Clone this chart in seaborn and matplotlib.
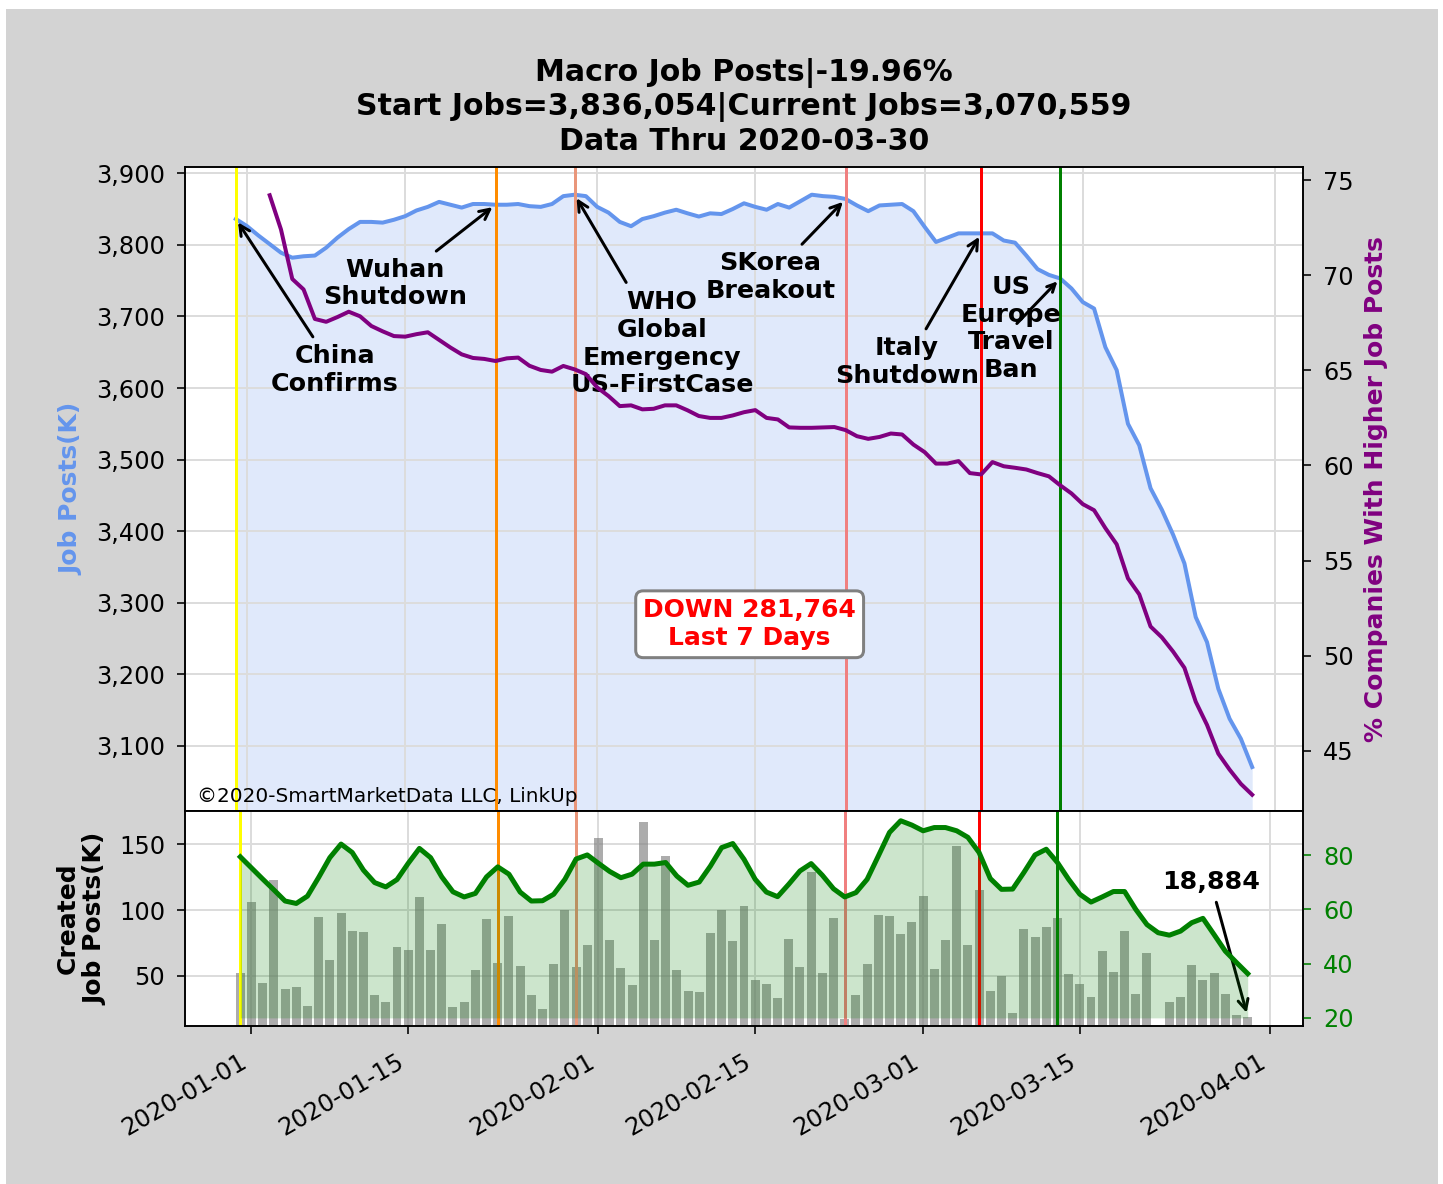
import numpy as np
import pandas as pd
import seaborn as sns
import matplotlib.pyplot as plt
import matplotlib.dates as mdates
from matplotlib.patches import Rectangle
from matplotlib.ticker import FuncFormatter, MultipleLocator

nan = np.nan

# daily dates 2019-12-31 .. 2020-03-30
dates = pd.date_range('2019-12-31', '2020-03-30', freq='D')

# total job posts (thousands)
job_posts_k = [
    3836.054, 3826, 3813, 3801, 3789, 3782, 3784, 3785, 3796, 3810,
    3822, 3832, 3832, 3831, 3835, 3840, 3848, 3853, 3860, 3856,
    3852, 3857, 3857, 3856, 3856, 3857, 3854, 3853, 3857, 3868,
    3870, 3868, 3853, 3845, 3832, 3826, 3836, 3840, 3845, 3849,
    3844, 3839.5, 3844, 3843, 3850, 3858, 3853, 3849, 3857, 3852,
    3861, 3870, 3868, 3867, 3864, 3855, 3847, 3855, 3856, 3857,
    3847, 3825, 3804, 3810, 3816, 3816, 3816, 3816, 3806, 3803,
    3785, 3766, 3758, 3753, 3739, 3720, 3711, 3657, 3625, 3550,
    3520, 3460, 3430, 3395, 3355, 3280, 3245, 3180, 3138, 3110,
    3070.559,
]

# % companies with higher job posts
pct_higher = [
    nan, nan, nan, 74.2, 72.4, 69.8, 69.25, 67.7, 67.55, 67.8,
    68.08, 67.84, 67.33, 67.05, 66.8, 66.77, 66.9, 67.0, 66.6, 66.2,
    65.84, 65.65, 65.6, 65.49, 65.63, 65.67, 65.24, 65.02, 64.93, 65.23,
    65.05, 64.8, 64.1, 63.65, 63.12, 63.16, 62.95, 62.98, 63.16, 63.16,
    62.9, 62.6, 62.5, 62.5, 62.63, 62.8, 62.91, 62.5, 62.42, 62.0,
    61.98, 61.98, 62.0, 62.02, 61.86, 61.54, 61.4, 61.5, 61.68, 61.63,
    61.1, 60.7, 60.1, 60.1, 60.23, 59.6, 59.53, 60.18, 59.96, 59.88,
    59.79, 59.6, 59.43, 58.96, 58.53, 57.97, 57.65, 56.71, 55.86, 54.07,
    53.23, 51.54, 50.97, 50.22, 49.37, 47.59, 46.37, 44.86, 44.02, 43.27,
    42.7,
]

# newly created job posts per day (thousands)
created_k = [
    52.0, 106.3, 44.4, 122.5, 40.3, 41.6, 27.1, 95.0, 62.2, 97.9,
    83.8, 83.1, 35.0, 30.4, 71.9, 69.8, 109.8, 69.8, 89.7, 26.1,
    30.4, 54.3, 93.5, 59.4, 95.6, 57.6, 35.7, 25.0, 59.2, 99.9,
    56.6, 73.2, 154.4, 77.0, 55.6, 43.1, 167.0, 77.0, 140.8, 54.3,
    38.5, 37.5, 82.3, 99.9, 76.2, 103.4, 46.9, 43.9, 33.4, 78.2,
    56.3, 129.2, 51.8, 93.8, 17.5, 35.7, 58.6, 96.3, 95.6, 81.8,
    91.0, 110.3, 55.3, 77.0, 148.5, 73.7, 115.1, 38.5, 50.0, 22.0,
    85.9, 79.5, 87.2, 93.8, 51.5, 43.9, 33.7, 69.1, 52.8, 84.4,
    36.5, 67.0, nan, 30.4, 34.0, 58.3, 46.7, 52.3, 36.5, 20.2,
    18.884,
]

# smoothed created posts (right axis)
created_avg = [
    79.4, 75.3, 71.2, 67.2, 63.1, 62.2, 64.9, 71.8, 79.1, 84.1,
    81.0, 74.5, 69.9, 68.3, 71.0, 77.0, 82.5, 79.1, 72.0, 66.5,
    64.6, 65.9, 72.0, 75.7, 73.0, 66.4, 63.1, 63.2, 65.6, 71.1,
    78.6, 80.1, 77.0, 74.0, 71.7, 73.0, 76.7, 76.7, 77.3, 72.3,
    68.9, 70.1, 76.0, 82.8, 84.3, 78.5, 71.1, 66.4, 64.7, 69.3,
    74.2, 76.9, 72.6, 67.6, 64.6, 66.2, 71.1, 79.7, 88.4, 92.7,
    91.1, 89.0, 90.2, 90.2, 89.0, 86.6, 81.0, 71.4, 67.4, 67.5,
    73.6, 80.1, 82.2, 77.3, 71.1, 65.6, 62.7, 64.6, 66.6, 66.6,
    60.0, 54.4, 51.4, 50.5, 52.0, 55.1, 56.7, 50.7, 44.6, 40.4,
    36.3,
]

event_dates = ['2019-12-31', '2020-01-23', '2020-01-30', '2020-02-23', '2020-03-06', '2020-03-13']
event_colors = ['yellow', 'darkorange', 'darksalmon', 'lightcoral', 'red', 'green']
event_labels = ['China\nConfirms', 'Wuhan\nShutdown', 'WHO\nGlobal\nEmergency\nUS-FirstCase',
                'SKorea\nBreakout', 'Italy\nShutdown', 'US\nEurope\nTravel\nBan']
label_pos = [('2020-01-08 18:00', 3625), ('2020-01-14 02:00', 3746), ('2020-02-06 18:00', 3662),
             ('2020-02-16 08:00', 3755), ('2020-02-28 10:00', 3636), ('2020-03-08 15:00', 3683)]

W, H, DPI = 1443, 1184, 144
fig = plt.figure(figsize=(W / DPI, H / DPI), dpi=DPI)
fig.patch.set_facecolor('white')
fig.patches.append(Rectangle((6 / W, 0), 1432 / W, 1175 / H, transform=fig.transFigure,
                             facecolor='lightgray', edgecolor='none', zorder=-10))

ax = fig.add_axes([185 / W, 1 - 811 / H, 1118 / W, 644 / H])
ax2 = ax.twinx()
axb = fig.add_axes([185 / W, 1 - 1026 / H, 1118 / W, 215 / H])
axb2 = axb.twinx()

df = pd.DataFrame({'date': dates, 'jobs': job_posts_k, 'pct': pct_higher,
                   'created': created_k, 'avg': created_avg})

# ---- top panel
lo, hi = min(job_posts_k) * 0.98, max(job_posts_k) * 1.01
ax.fill_between(df['date'], df['jobs'], lo, color='cornflowerblue', alpha=0.2, lw=0)
sns.lineplot(data=df, x='date', y='jobs', ax=ax, color='cornflowerblue', lw=2)
ax.set_ylim(lo, hi)
sns.lineplot(data=df, x='date', y='pct', ax=ax2, color='purple', lw=2)
ax2.set_ylim(np.nanmin(pct_higher) * 0.98, np.nanmax(pct_higher) * 1.02)

for d, c in zip(event_dates, event_colors):
    ax.axvline(pd.Timestamp(d), color=c, lw=1.5)
    axb.axvline(pd.Timestamp(d), color=c, lw=1.5)

jobs_at = dict(zip(dates, job_posts_k))
for d, lab, (tx, ty) in zip(event_dates, event_labels, label_pos):
    xy = (mdates.date2num(pd.Timestamp(d)), jobs_at[pd.Timestamp(d)])
    txy = (mdates.date2num(pd.Timestamp(tx)), ty)
    if lab.startswith('US'):
        # arrow runs straight through this label in the original
        ax.text(*txy, lab, ha='center', va='center', fontsize=12.7, fontweight='bold')
        ax.annotate('', xy=xy, xytext=(mdates.date2num(pd.Timestamp('2020-03-08 22:00')), 3686),
                    arrowprops=dict(arrowstyle='->', color='black', lw=1.5))
    else:
        ax.annotate(lab, xy=xy, xytext=txy, ha='center', va='center', fontsize=12.7,
                    fontweight='bold', arrowprops=dict(arrowstyle='->', color='black', lw=1.5))

ax.text(mdates.date2num(pd.Timestamp('2020-02-14 12:00')), 3270, 'DOWN 281,764\nLast 7 Days',
        ha='center', va='center', color='red', fontsize=12.5, fontweight='bold',
        bbox=dict(boxstyle='round,pad=0.3', facecolor='white', edgecolor='gray', lw=1.5))
ax.text(0.0107, 0.008, '\u00a92020-SmartMarketData LLC, LinkUp', transform=ax.transAxes,
        fontsize=10, va='bottom')

ax.set_title('Macro Job Posts|-19.96%\nStart Jobs=3,836,054|Current Jobs=3,070,559\n'
             'Data Thru 2020-03-30', fontsize=15, fontweight='bold', pad=8.5)
ax.set_ylabel('Job Posts(K)', color='cornflowerblue', fontsize=12.5, fontweight='bold', labelpad=6.5)
ax2.set_ylabel('% Companies With Higher Job Posts', color='purple', fontsize=12.5,
               fontweight='bold', labelpad=5)
ax.set_xlabel('')
ax.yaxis.set_major_locator(MultipleLocator(100))
ax.yaxis.set_major_formatter(FuncFormatter(lambda v, p: f'{v:,.0f}'))
ax2.yaxis.set_major_locator(MultipleLocator(5))
ax.xaxis.set_major_locator(mdates.DayLocator(bymonthday=[1, 15]))
ax.tick_params(axis='x', length=0, labelbottom=False)
ax.tick_params(axis='y', labelsize=12, length=4, pad=6)
ax2.tick_params(axis='y', labelsize=12, length=4, pad=6)
ax.grid(True, color='#dcdcdc', lw=1)

# ---- bottom panel
axb.bar(df['date'], df['created'], width=0.8, color='gray', alpha=0.65)
axb.set_ylim(11.8, 175.3)
axb2.fill_between(df['date'], df['avg'], 20, color='green', alpha=0.2, lw=0)
sns.lineplot(data=df, x='date', y='avg', ax=axb2, color='green', lw=2.5)
axb2.set_ylim(17, 96.3)
axb.annotate('18,884', xy=(mdates.date2num(dates[-1]), created_k[-1]),
             xytext=(mdates.date2num(pd.Timestamp('2020-03-26 17:00')), 121),
             ha='center', va='center', fontsize=12.7, fontweight='bold', zorder=5,
             arrowprops=dict(arrowstyle='->', color='black', lw=1.5))

axb.set_ylabel('Created\nJob Posts(K)', fontsize=12.5, fontweight='bold', labelpad=5.5)
axb2.set_ylabel('')
axb.set_xlabel('')
axb.yaxis.set_major_locator(MultipleLocator(50))
axb2.yaxis.set_major_locator(MultipleLocator(20))
axb.xaxis.set_major_locator(mdates.DayLocator(bymonthday=[1, 15]))
axb.xaxis.set_major_formatter(mdates.DateFormatter('%Y-%m-%d'))
axb.tick_params(axis='y', labelsize=12, length=4, pad=6)
axb.tick_params(axis='x', labelsize=12, length=4, pad=8)
axb2.tick_params(labelsize=12, colors='green', length=4, pad=6)
for lbl in axb.get_xticklabels():
    lbl.set_rotation(30)
    lbl.set_ha('right')
axb.grid(True, color='#dcdcdc', lw=1)
axb.set_axisbelow(True)

fig.savefig('out.png', dpi=DPI, facecolor=fig.get_facecolor())
